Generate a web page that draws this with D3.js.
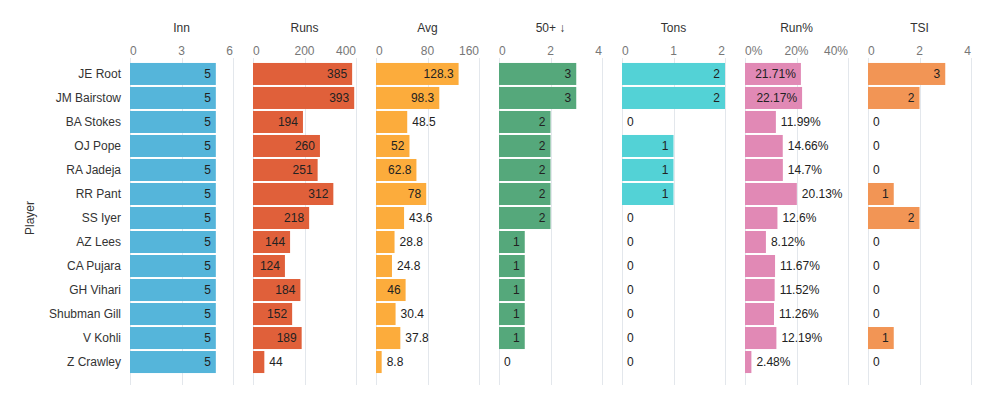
<!DOCTYPE html>
<html>
<head>
<meta charset="utf-8">
<script src="https://cdn.jsdelivr.net/npm/d3@7"></script>
<style>
  body { margin: 0; background: #fff; }
  svg { font-family: "Liberation Sans", Arial, sans-serif; }
</style>
</head>
<body>
<div id="chart"></div>
<script>
// Données
const players = ["JE Root", "JM Bairstow", "BA Stokes", "OJ Pope", "RA Jadeja", "RR Pant", "SS Iyer",
  "AZ Lees", "CA Pujara", "GH Vihari", "Shubman Gill", "V Kohli", "Z Crawley"];
const inn = [5, 5, 5, 5, 5, 5, 5, 5, 5, 5, 5, 5, 5];
const runs = [385, 393, 194, 260, 251, 312, 218, 144, 124, 184, 152, 189, 44];
const avg = [128.3, 98.3, 48.5, 52, 62.8, 78, 43.6, 28.8, 24.8, 46, 30.4, 37.8, 8.8];
const fifties = [3, 3, 2, 2, 2, 2, 2, 1, 1, 1, 1, 1, 0];
const tons = [2, 2, 0, 1, 1, 1, 0, 0, 0, 0, 0, 0, 0];
const runPct = [21.71, 22.17, 11.99, 14.66, 14.7, 20.13, 12.6, 8.12, 11.67, 11.52, 11.26, 12.19, 2.48];
const tsi = [3, 2, 0, 0, 0, 1, 2, 0, 0, 0, 0, 1, 0];

const metrics = [
  { title: "Inn", values: inn, max: 6, ticks: [0, 3, 6], color: "#55b5da", fmt: d => d },
  { title: "Runs", values: runs, max: 400, ticks: [0, 200, 400], color: "#e0603a", fmt: d => d },
  { title: "Avg", values: avg, max: 160, ticks: [0, 80, 160], color: "#fcac3c", fmt: d => d },
  { title: "50+ \u2193", values: fifties, max: 4, ticks: [0, 2, 4], color: "#55a87b", fmt: d => d },
  { title: "Tons", values: tons, max: 2, ticks: [0, 1, 2], color: "#53d2d6", fmt: d => d },
  { title: "Run%", values: runPct, max: 40, ticks: [0, 20, 40], color: "#e189b5", fmt: d => d + "%" },
  { title: "TSI", values: tsi, max: 4, ticks: [0, 2, 4], color: "#f29555", fmt: d => d }
];

const W = 1003, H = 395;
const panelX0 = 130, panelW = 103, panelStep = 123;

// largeur approximative d'un libellé (12px), pour décider dedans / dehors
const charW = c => (c === "." ? 3.34 : c === "%" ? 10.67 : 6.67);
const textW = s => String(s).split("").reduce((a, c) => a + charW(c), 0);

const svg = d3.select("#chart").append("svg")
  .attr("width", W)
  .attr("height", H);

const y = d3.scaleBand()
  .domain(players)
  .range([62, 374])
  .paddingInner(0.083)
  .paddingOuter(0.04);

// Titre de l'axe Y
svg.append("text")
  .attr("transform", `translate(34, ${(62 + 374) / 2}) rotate(-90)`)
  .attr("text-anchor", "middle")
  .style("font-size", "12px")
  .style("fill", "#333")
  .text("Player");

// Noms des joueurs
svg.append("g").selectAll("text")
  .data(players)
  .join("text")
  .attr("x", 121)
  .attr("y", d => y(d) + y.bandwidth() / 2)
  .attr("dy", "0.35em")
  .attr("text-anchor", "end")
  .style("font-size", "12px")
  .style("fill", "#333")
  .text(d => d);

metrics.forEach((m, i) => {
  const x0 = panelX0 + i * panelStep;
  const x = d3.scaleLinear().domain([0, m.max]).range([x0, x0 + panelW]);
  const g = svg.append("g");

  // Titre du panneau
  g.append("text")
    .attr("x", x0 + panelW / 2)
    .attr("y", 32)
    .attr("text-anchor", "middle")
    .style("font-size", "12px")
    .style("fill", "#333")
    .text(m.title);

  // Grille
  g.selectAll(".grid")
    .data(m.ticks)
    .join("line")
    .attr("x1", d => Math.round(x(d)) + 0.5)
    .attr("x2", d => Math.round(x(d)) + 0.5)
    .attr("y1", 58)
    .attr("y2", 385)
    .attr("stroke", "#e3e7ec")
    .attr("stroke-width", 1);

  // Étiquettes des ticks (alignées aux bords comme dans l'original)
  g.selectAll(".tick")
    .data(m.ticks)
    .join("text")
    .attr("x", d => x(d))
    .attr("y", 55)
    .attr("text-anchor", (d, j) => j === 0 ? "start" : (j === m.ticks.length - 1 ? "end" : "middle"))
    .style("font-size", "12px")
    .style("fill", "#777")
    .text(d => m.fmt(d));

  const rows = players.map((p, k) => ({ p, v: m.values[k] }));

  g.selectAll(".bar")
    .data(rows.filter(d => d.v > 0))
    .join("rect")
    .attr("x", x(0))
    .attr("y", d => y(d.p))
    .attr("width", d => x(d.v) - x(0))
    .attr("height", y.bandwidth())
    .attr("fill", m.color);

  // Dedans si la barre est assez large, sinon à côté
  const inside = d => (x(d.v) - x(0)) - textW(m.fmt(d.v)) >= 11.5;

  g.selectAll(".lbl")
    .data(rows)
    .join("text")
    .attr("x", d => inside(d) ? x(d.v) - 5 : x(d.v) + 5)
    .attr("y", d => y(d.p) + y.bandwidth() / 2)
    .attr("dy", "0.35em")
    .attr("text-anchor", d => inside(d) ? "end" : "start")
    .style("font-size", "12px")
    .style("fill", "#222")
    .text(d => m.fmt(d.v));
});
</script>
</body>
</html>
